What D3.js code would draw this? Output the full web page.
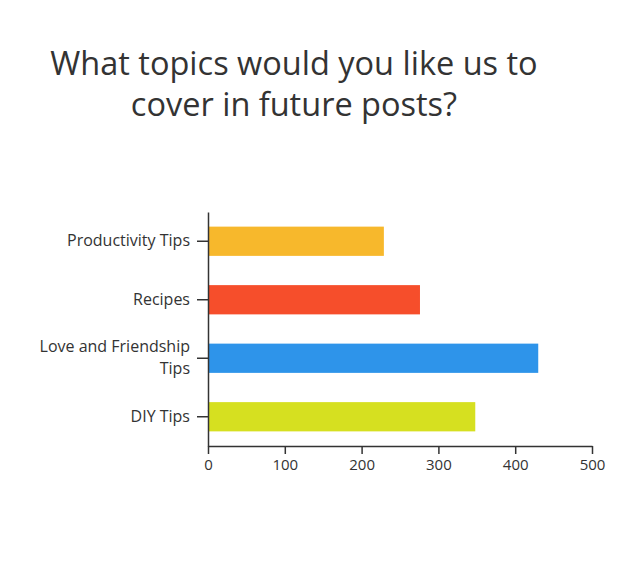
<!DOCTYPE html>
<html>
<head>
<meta charset="utf-8">
<script src="https://cdn.jsdelivr.net/npm/d3@7"></script>
<style>
  html, body { margin: 0; padding: 0; background: #fff; }
  svg { display: block; font-family: "Open Sans", sans-serif; }
</style>
</head>
<body>
<div id="chart"></div>
<script>
// Anket sonuçları
const categories = ['Productivity Tips', 'Recipes', 'Love and Friendship Tips', 'DIY Tips'];
const values = [229, 276, 430, 348];
const colors = ['#F7B82C', '#F64E2B', '#2E94EA', '#D6E020'];
const xTicks = [0, 100, 200, 300, 400, 500];
const titleLines = ['What topics would you like us to', 'cover in future posts?'];

const width = 636, height = 564;
const margin = { top: 212, right: 44, bottom: 118, left: 208 };

const svg = d3.select('#chart').append('svg')
    .attr('width', width)
    .attr('height', height);

// Başlık
svg.append('text')
    .attr('x', 294)
    .attr('y', 75)
    .attr('text-anchor', 'middle')
    .attr('fill', '#333')
    .style('font-size', '32.5px')
    .selectAll('tspan')
    .data(titleLines)
    .enter()
    .append('tspan')
    .attr('x', 294)
    .attr('dy', (d, i) => i === 0 ? 0 : 41)
    .text(d => d);

const xScale = d3.scaleLinear().domain([0, 500]).range([margin.left, width - margin.right]);
const yScale = d3.scaleBand().domain(categories).range([margin.top, height - margin.bottom])
    .paddingInner(0.5).paddingOuter(0.25);

// Barlar
svg.selectAll('.bar')
    .data(categories)
    .enter()
    .append('rect')
    .attr('x', xScale(0))
    .attr('y', d => yScale(d))
    .attr('width', (d, i) => xScale(values[i]) - xScale(0))
    .attr('height', yScale.bandwidth())
    .attr('fill', (d, i) => colors[i]);

// X ekseni
const xAxis = svg.append('g')
    .attr('transform', `translate(0,${height - margin.bottom})`)
    .call(d3.axisBottom(xScale).tickValues(xTicks).tickSize(8).tickPadding(5).tickSizeOuter(0));
xAxis.selectAll('line, path').attr('stroke', '#333').attr('stroke-width', 1.5);
xAxis.selectAll('text').attr('fill', '#333').style('font-size', '15px').style('font-family', '"Open Sans", sans-serif');

// Y ekseni
const yAxis = svg.append('g')
    .attr('transform', `translate(${margin.left},0)`)
    .call(d3.axisLeft(yScale).tickSize(11).tickPadding(7).tickSizeOuter(0));
yAxis.selectAll('line, path').attr('stroke', '#333').attr('stroke-width', 1.5);
yAxis.selectAll('text').attr('fill', '#333').style('font-size', '16px').style('font-family', '"Open Sans", sans-serif')
    .call(wrap, 160);

// Uzun etiketleri satırlara böl
function wrap(texts, maxW) {
    texts.each(function () {
        const text = d3.select(this);
        const words = text.text().split(/\s+/);
        const x = text.attr('x');
        const tspan = text.text(null).append('tspan').attr('x', x);
        const lines = [];
        let line = [];
        words.forEach(w => {
            line.push(w);
            tspan.text(line.join(' '));
            if (tspan.node().getComputedTextLength() > maxW && line.length > 1) {
                line.pop();
                lines.push(line.join(' '));
                line = [w];
                tspan.text(w);
            }
        });
        lines.push(line.join(' '));
        text.text(null).attr('dy', null);
        const lh = 22;
        lines.forEach((l, i) => {
            text.append('tspan')
                .attr('x', x)
                .attr('y', (i - (lines.length - 1) / 2) * lh + 5)
                .text(l);
        });
    });
}
</script>
</body>
</html>
